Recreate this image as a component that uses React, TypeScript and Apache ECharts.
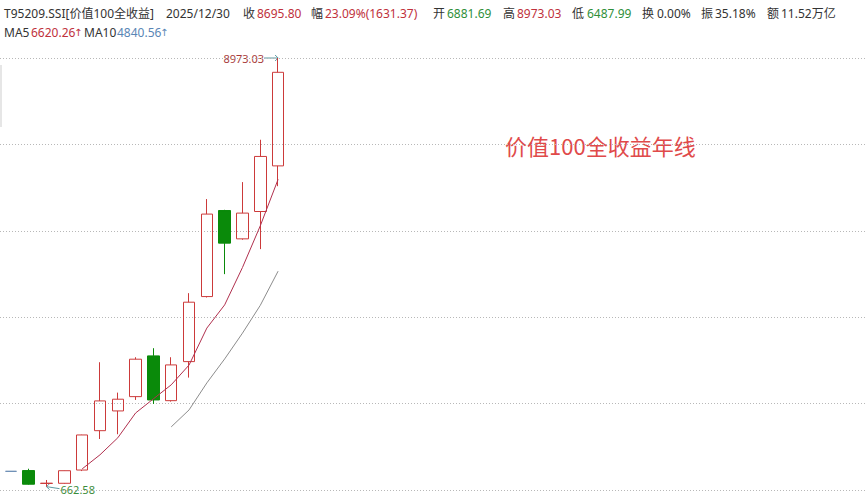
import React, { useEffect, useRef } from 'react';
import * as echarts from 'echarts';

const years = ['2010', '2011', '2012', '2013', '2014', '2015', '2016', '2017', '2018', '2019', '2020', '2021', '2022', '2023', '2024', '2025'];
const opens = [960, 975, 725, 728, 985, 1748, 2131, 2408, 3198, 2330, 3087, 4348, 6016, 5467, 5997, 6881.69];
const closes = [960, 710, 730, 972, 1665, 2325, 2358, 3134, 2344, 3023, 4239, 5947, 5384, 5966, 7064.43, 8695.8];
const lows = [960, 700, 662.58, 720, 965, 1587, 1679, 2344, 2266, 2311, 2777, 4330, 4783, 5450, 5268, 6487.99];
const highs = [960, 1010, 792, 975, 1670, 3075, 2486, 3172, 3347, 3172, 4414, 6238, 6030, 6567, 7388, 8973.03];
const ma5 = ['-', '-', '-', '-', 1007, 1280, 1610, 2091, 2365, 2637, 3020, 3737, 4187, 4912, 5720, 6620.26];
const ma10 = ['-', '-', '-', '-', '-', '-', '-', '-', '-', 1822, 2150, 2674, 3139, 3639, 4178, 4840.56];
const emptySlots = 32;

const headerRow1 = [
  { t: 'T95209.SSI[价值100全收益]', x: 4, c: '#333333' },
  { t: '2025/12/30', x: 166, c: '#333333' },
  { t: '收', x: 243, c: '#333333' },
  { t: '8695.80', x: 257, c: '#c0313c' },
  { t: '幅', x: 311, c: '#333333' },
  { t: '23.09%(1631.37)', x: 325, c: '#c0313c' },
  { t: '开', x: 433, c: '#333333' },
  { t: '6881.69', x: 447, c: '#2f8f3a' },
  { t: '高', x: 503, c: '#333333' },
  { t: '8973.03', x: 517, c: '#c0313c' },
  { t: '低', x: 572, c: '#333333' },
  { t: '6487.99', x: 587, c: '#2f8f3a' },
  { t: '换', x: 642, c: '#333333' },
  { t: '0.00%', x: 657, c: '#333333' },
  { t: '振', x: 701, c: '#333333' },
  { t: '35.18%', x: 715, c: '#333333' },
  { t: '额', x: 767, c: '#333333' },
  { t: '11.52万亿', x: 781, c: '#333333' },
];
const headerRow2 = [
  { t: 'MA5', x: 4, c: '#333333' },
  { t: '6620.26', x: 31, c: '#c0313c' },
  { t: '↑', x: 74, c: '#c0313c', arrow: true },
  { t: 'MA10', x: 84, c: '#333333' },
  { t: '4840.56', x: 117, c: '#5a86b5' },
  { t: '↑', x: 160, c: '#5a86b5', arrow: true },
];

const FONT = '"Noto Sans", "Noto Sans CJK SC", sans-serif';
const UP = '#cc3a3a';
const DOWN = '#0a8a0a';
const DOJI = '#6b8db5';

export default function App() {
  const ref = useRef<HTMLDivElement>(null);
  useEffect(() => {
    if (!ref.current) return;
    const chart = echarts.init(ref.current, null, { renderer: 'svg' });
    const cats = years.concat(Array.from({ length: emptySlots }, () => ''));
    const candleData = years.map((_, i) => {
      const v = [opens[i], closes[i], lows[i], highs[i]];
      if (opens[i] === closes[i] && lows[i] === highs[i]) {
        return {
          value: v,
          itemStyle: { color: DOJI, color0: DOJI, borderColor: DOJI, borderColor0: DOJI, borderColorDoji: DOJI },
        };
      }
      return v;
    });
    const headerEls: any[] = [];
    headerRow1.forEach((h) =>
      headerEls.push({
        type: 'text', x: h.x, y: 13,
        style: { text: h.t, fill: h.c, font: `12px ${FONT}`, verticalAlign: 'middle' },
      })
    );
    headerRow2.forEach((h: any) =>
      headerEls.push({
        type: 'text', x: h.x, y: 32,
        style: {
          text: h.t, fill: h.c,
          font: h.arrow ? `10px "DejaVu Sans", sans-serif` : `12px ${FONT}`,
          verticalAlign: 'middle',
        },
      })
    );
    headerEls.push({
      type: 'text', x: 505, y: 145,
      style: { text: '价值100全收益年线', fill: '#e04a4a', font: `22px "Noto Sans CJK SC", sans-serif`, verticalAlign: 'middle' },
    });
    headerEls.push({ type: 'rect', shape: { x: 0, y: 65, width: 2, height: 62 }, style: { fill: '#e6e6e6' } });

    chart.setOption({
      animation: false,
      backgroundColor: '#ffffff',
      grid: [
        { left: 2, right: 8, top: 58, bottom: 10 },
        { left: 0, right: 0, top: 58, bottom: 10 },
      ],
      xAxis: [
        { type: 'category', data: cats, gridIndex: 0, show: false, boundaryGap: true },
        { type: 'value', gridIndex: 1, show: false, min: 0, max: 1 },
      ],
      yAxis: [
        { type: 'value', gridIndex: 0, show: false, min: 598, max: 8973.03, splitLine: { show: false } },
        {
          type: 'value', gridIndex: 1, min: 0, max: 5, interval: 1,
          axisLine: { show: false }, axisTick: { show: false }, axisLabel: { show: false },
          splitLine: { show: true, lineStyle: { color: '#b8b8b8', type: [1, 2], width: 1 } },
        },
      ],
      series: [
        {
          type: 'candlestick',
          xAxisIndex: 0, yAxisIndex: 0,
          data: candleData,
          barWidth: 12,
          itemStyle: {
            color: 'transparent', color0: DOWN,
            borderColor: UP, borderColor0: DOWN, borderWidth: 1,
          },
        },
        {
          type: 'line', name: 'MA5', data: ma5, symbol: 'none', smooth: false,
          xAxisIndex: 0, yAxisIndex: 0,
          lineStyle: { color: '#b0304e', width: 1 }, z: 5,
        },
        {
          type: 'line', name: 'MA10', data: ma10, symbol: 'none', smooth: false,
          xAxisIndex: 0, yAxisIndex: 0,
          lineStyle: { color: '#8c8c8c', width: 1 }, z: 5,
        },
      ],
      graphic: headerEls,
    });

    // annotations at highest high and lowest low, placed through the chart's own scales
    let hiI = 0, loI = 0;
    highs.forEach((v, i) => { if (v > highs[hiI]) hiI = i; });
    lows.forEach((v, i) => { if (v < lows[loI]) loI = i; });
    const [hx, hy] = chart.convertToPixel({ xAxisIndex: 0, yAxisIndex: 0 }, [hiI, highs[hiI]]) as number[];
    const [lx, ly] = chart.convertToPixel({ xAxisIndex: 0, yAxisIndex: 0 }, [loI, lows[loI]]) as number[];
    const ARW = '#5e9aa2';
    const ann: any[] = [
      { type: 'line', shape: { x1: hx - 14, y1: hy, x2: hx, y2: hy }, style: { stroke: ARW, lineWidth: 1 } },
      { type: 'polyline', shape: { points: [[hx - 3, hy - 3], [hx, hy], [hx - 3, hy + 3]] }, style: { stroke: ARW, lineWidth: 1, fill: 'none' } },
      { type: 'text', x: hx - 14, y: hy, style: { text: highs[hiI].toFixed(2), fill: '#a83a3a', font: `11px ${FONT}`, align: 'right', verticalAlign: 'middle' } },
      { type: 'line', shape: { x1: lx, y1: ly, x2: lx + 13, y2: ly + 2 }, style: { stroke: ARW, lineWidth: 1 } },
      { type: 'polyline', shape: { points: [[lx + 3, ly - 3], [lx, ly], [lx + 3, ly + 3]] }, style: { stroke: ARW, lineWidth: 1, fill: 'none' } },
      { type: 'text', x: lx + 14, y: ly + 2.5, style: { text: lows[loI].toFixed(2), fill: '#3a8c3a', font: `11px ${FONT}`, verticalAlign: 'middle' } },
    ];
    chart.setOption({ graphic: headerEls.concat(ann) });

    return () => chart.dispose();
  }, []);
  return (
    <div
      ref={ref}
      style={{ position: 'fixed', left: 0, top: 0, width: 865, height: 500, background: '#fff' }}
    />
  );
}
